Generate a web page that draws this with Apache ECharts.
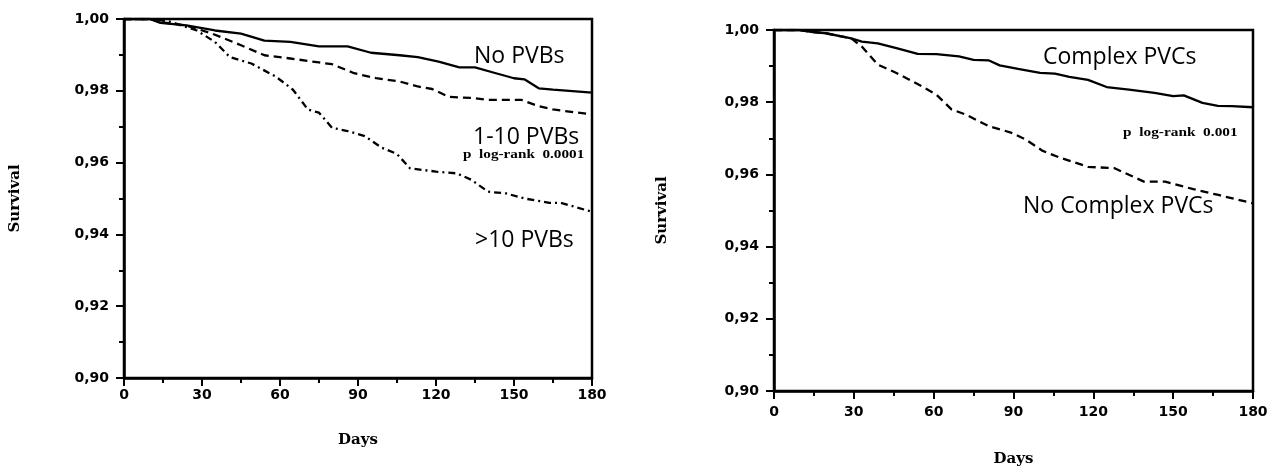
<!DOCTYPE html>
<html><head><meta charset="utf-8">
<script src="https://cdn.jsdelivr.net/npm/echarts@6/dist/echarts.min.js"></script>
<style>html,body{margin:0;padding:0;background:#fff}#c{width:1280px;height:469px}</style>
</head><body><div id="c"></div>
<script>
// Left panel: PVB groups
const noPVBs = [[0,1],[10,1],[14,0.9989],[24,0.9982],[35,0.9968],[45,0.9959],[54,0.9940],[64,0.9936],[75,0.9924],[86,0.9924],[95,0.9906],[106,0.9899],[113,0.9894],[121,0.9881],[129,0.9865],[135,0.9865],[142,0.9851],[150,0.9835],[154,0.9832],[159.5,0.9807],[165,0.9803],[180,0.9795]];
const pvb1to10 = [[0,1],[10,1],[14,0.9991],[24,0.9982],[34,0.9959],[45,0.9927],[54,0.9899],[64,0.9890],[75,0.9879],[80,0.9874],[88.5,0.9849],[97,0.9835],[106,0.9826],[113,0.9812],[118.5,0.9805],[125,0.9783],[133.6,0.9780],[140,0.9775],[152.7,0.9775],[159.5,0.9757],[165,0.9748],[180,0.9734]];
const pvbOver10 = [[0,1],[10,1],[17.5,0.9993],[28,0.9968],[35,0.9936],[40.7,0.9894],[49,0.9876],[58.5,0.9839],[65,0.9803],[70.7,0.9748],[75,0.9739],[80,0.9697],[86,0.9688],[92.6,0.9674],[99,0.9642],[105,0.9624],[110,0.9584],[120,0.9575],[128,0.9570],[133.6,0.9552],[140,0.9519],[147,0.9514],[154,0.9500],[163.6,0.9488],[168,0.9488],[180,0.9463]];
// Right panel: complex PVCs
const complexPVCs = [[0,1],[9.7,1],[13.9,0.9995],[19.5,0.9991],[29,0.9977],[33,0.9968],[39,0.9963],[46,0.9950],[54,0.9934],[61,0.9933],[69.5,0.9927],[75,0.9917],[80.6,0.9916],[84.8,0.9902],[91.7,0.9892],[100,0.9881],[105.6,0.9879],[111,0.9870],[118,0.9862],[125,0.9842],[133.4,0.9835],[143,0.9826],[150,0.9817],[154,0.9819],[161,0.9798],[166.8,0.9790],[172,0.9789],[180,0.9786]];
const noComplexPVCs = [[0,1],[9.7,1],[13.9,0.9995],[19.5,0.9991],[29,0.9977],[33,0.9954],[39,0.9904],[46,0.9881],[55.6,0.9844],[61,0.9821],[66.7,0.9780],[72,0.9766],[80.6,0.9734],[89,0.9716],[94.5,0.9697],[101,0.9665],[108,0.9645],[118,0.9621],[128,0.9617],[139,0.9580],[147,0.9580],[157.6,0.9559],[167,0.9543],[180,0.9520]];

const xTicks = [0,30,60,90,120,150,180];
const yTicks = [0.90,0.92,0.94,0.96,0.98,1.00];

const chart = echarts.init(document.getElementById('c'));
const tickFont = {fontFamily:'DejaVu Sans, sans-serif',fontWeight:'bold',fontSize:14,color:'#000'};
const nameFont = {fontFamily:'DejaVu Serif, serif',fontWeight:'bold',fontSize:15,color:'#000'};
function xAx(gi,gap,mg){return {type:'value',gridIndex:gi,min:0,max:180,interval:30,
  name:'Days',nameLocation:'middle',nameGap:gap,nameTextStyle:nameFont,
  axisLine:{show:true,lineStyle:{color:'#000',width:2.5}},
  axisTick:{show:true,inside:false,length:8,lineStyle:{color:'#000',width:2}},
  minorTick:{show:true,splitNumber:2,length:5,lineStyle:{color:'#000',width:2}},
  axisLabel:Object.assign({margin:mg,formatter:v=>xTicks.includes(v)?String(v):''},tickFont),splitLine:{show:false}};}
function yAx(gi,gap){return {type:'value',gridIndex:gi,min:0.90,max:1.00,interval:0.02,
  name:'Survival',nameLocation:'middle',nameGap:gap,nameRotate:90,nameTextStyle:nameFont,
  axisLine:{show:true,lineStyle:{color:'#000',width:2.5}},
  axisTick:{show:true,length:8,lineStyle:{color:'#000',width:2}},
  minorTick:{show:true,splitNumber:2,length:5,lineStyle:{color:'#000',width:2}},
  axisLabel:Object.assign({margin:15,formatter:v=>v.toFixed(2).replace('.',',')},tickFont),splitLine:{show:false}};}
function ln(name,data,xi,type,w){return {name,type:'line',xAxisIndex:xi,yAxisIndex:xi,data,showSymbol:false,symbol:'none',
  lineStyle:{color:'#000',width:w||2.3,type:type},z:3};}
const annFont = 'Open Sans, Noto Sans, sans-serif';
function ann(x,y,t,size,fam,bold,sx){return {type:'text',x:x,y:y,scaleX:sx||1,style:{text:t,font:(bold?'bold ':'')+size+'px '+fam,fill:'#000',textVerticalAlign:'middle'}};}
chart.setOption({
  animation:false,
  grid:[{left:124,right:688,top:19,bottom:91,show:true,borderColor:'#000',borderWidth:2.5,containLabel:false,outerBoundsMode:'none'},
        {left:774,right:27,top:30,bottom:78,show:true,borderColor:'#000',borderWidth:2.5,containLabel:false,outerBoundsMode:'none'}],
  xAxis:[xAx(0,55,10),xAx(1,61,14)],
  yAxis:[yAx(0,101),yAx(1,104)],
  series:[ln('No PVBs',noPVBs,0,'solid'),ln('1-10 PVBs',pvb1to10,0,[8,5]),ln('>10 PVBs',pvbOver10,0,[7,4,2,4]),
          ln('Complex PVCs',complexPVCs,1,'solid'),ln('No Complex PVCs',noComplexPVCs,1,[8,5])],
  graphic:[
    ann(474,56,'No PVBs',23,annFont),
    ann(473,137,'1-10 PVBs',23,annFont),
    ann(463,155,'p  log-rank  0.0001',13,'Liberation Serif, serif',true,1.17),
    ann(475,240,'>10 PVBs',23,annFont),
    ann(1043,57,'Complex PVCs',23,annFont),
    ann(1123,133,'p  log-rank  0.001',13,'Liberation Serif, serif',true,1.18),
    ann(1023,206,'No Complex PVCs',23,annFont)
  ]
});
</script></body></html>
